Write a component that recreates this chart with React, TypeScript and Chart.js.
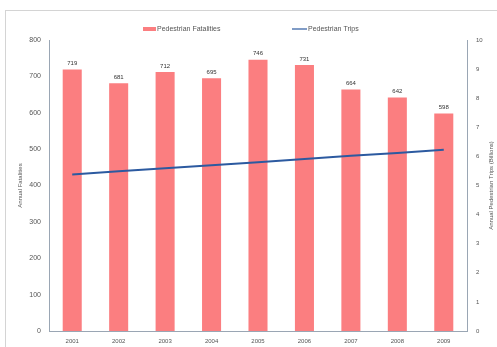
import React, { useEffect, useRef } from "react";
import { Chart, registerables } from "chart.js";

Chart.register(...registerables);

const years = ["2001", "2002", "2003", "2004", "2005", "2006", "2007", "2008", "2009"];
const fatalities = [719, 681, 712, 695, 746, 731, 664, 642, 598];
const trips = [5.38, 5.49, 5.59, 5.70, 5.80, 5.91, 6.02, 6.12, 6.23];
const leftTicks = [0, 100, 200, 300, 400, 500, 600, 700, 800];
const rightTicks = [0, 1, 2, 3, 4, 5, 6, 7, 8, 9, 10];

const FONT = "'Liberation Sans', Arial, sans-serif";
const BAR = "#fb7e80";
const LINE = "#2c5aa0";

const decor = {
  id: "decor",
  beforeDraw(chart: any) {
    const ctx = chart.ctx;
    ctx.save();
    ctx.fillStyle = "#ffffff";
    ctx.fillRect(0, 0, chart.width, chart.height);
    ctx.strokeStyle = "#d4d4d4";
    ctx.lineWidth = 1;
    ctx.strokeRect(5.5, 10.5, 600, 400);
    ctx.restore();
  },
  afterDraw(chart: any) {
    const ctx = chart.ctx;
    const area = chart.chartArea;
    ctx.save();
    // legend
    ctx.font = `7px ${FONT}`;
    ctx.textBaseline = "middle";
    ctx.textAlign = "left";
    ctx.fillStyle = BAR;
    ctx.fillRect(143, 27, 13, 4);
    ctx.fillStyle = "#555";
    ctx.fillText("Pedestrian Fatalities", 157, 29);
    ctx.strokeStyle = LINE;
    ctx.lineWidth = 1.2;
    ctx.beginPath();
    ctx.moveTo(292, 29);
    ctx.lineTo(307, 29);
    ctx.stroke();
    ctx.fillText("Pedestrian Trips", 308, 29);

    // data labels
    const meta = chart.getDatasetMeta(0);
    ctx.font = `6px ${FONT}`;
    ctx.fillStyle = "#333";
    ctx.textAlign = "center";
    ctx.textBaseline = "bottom";
    meta.data.forEach((bar: any, i: number) => {
      ctx.fillText(String(fatalities[i]), bar.x, bar.y - 3);
    });

    // axis titles
    const cy = (area.top + area.bottom) / 2;
    ctx.font = `6px ${FONT}`;
    ctx.fillStyle = "#555";
    ctx.textBaseline = "middle";
    ctx.save();
    ctx.translate(20, cy);
    ctx.rotate(-Math.PI / 2);
    ctx.fillText("Annual Fatalities", 0, 0);
    ctx.restore();
    ctx.save();
    ctx.translate(491, cy);
    ctx.rotate(-Math.PI / 2);
    ctx.fillText("Annual Pedestrian Trips (Billions)", 0, 0);
    ctx.restore();
    ctx.restore();
  },
};

export default function App() {
  const ref = useRef<HTMLCanvasElement>(null);
  useEffect(() => {
    document.body.style.margin = "0";
    const chart = new Chart(ref.current!, {
      type: "bar",
      data: {
        labels: years,
        datasets: [
          {
            type: "bar",
            label: "Pedestrian Fatalities",
            data: fatalities,
            backgroundColor: BAR,
            borderWidth: 0,
            yAxisID: "y",
            barPercentage: 0.82,
            categoryPercentage: 0.5,
            order: 2,
          },
          {
            type: "line",
            label: "Pedestrian Trips",
            data: trips,
            borderColor: LINE,
            borderWidth: 2,
            pointRadius: 0,
            tension: 0,
            yAxisID: "y1",
            order: 1,
          } as any,
        ],
      },
      plugins: [decor],
      options: {
        responsive: false,
        animation: false,
        layout: { padding: { top: 40, bottom: 0, left: 0, right: 0 } },
        plugins: { legend: { display: false }, tooltip: { enabled: false } },
        scales: {
          x: {
            grid: { display: false, drawTicks: false },
            border: { color: "#9aa6b4", width: 1 },
            ticks: { font: { size: 6, family: FONT }, color: "#555", padding: 7, maxRotation: 0 },
            afterFit(s: any) { s.height = 16; },
          },
          y: {
            position: "left",
            min: 0,
            max: 800,
            afterBuildTicks(s: any) { s.ticks = leftTicks.map((v) => ({ value: v })); },
            grid: { display: false, drawOnChartArea: false, drawTicks: true, tickLength: 3, color: "#9aa6b4" },
            border: { color: "#9aa6b4", width: 1 },
            ticks: { font: { size: 7, family: FONT }, color: "#555", padding: 5 },
            afterFit(s: any) { s.width = 49; },
          },
          y1: {
            position: "right",
            min: 0,
            max: 10,
            afterBuildTicks(s: any) { s.ticks = rightTicks.map((v) => ({ value: v })); },
            grid: { display: false, drawOnChartArea: false, drawTicks: true, tickLength: 3, color: "#9aa6b4" },
            border: { color: "#9aa6b4", width: 1 },
            ticks: { font: { size: 6, family: FONT }, color: "#555", padding: 6 },
            afterFit(s: any) { s.width = 30; },
          },
        },
      },
    });
    return () => chart.destroy();
  }, []);
  return (
    <div style={{ position: "absolute", left: 0, top: 0, width: 497, height: 347 }}>
      <canvas ref={ref} width={497} height={347} />
    </div>
  );
}
